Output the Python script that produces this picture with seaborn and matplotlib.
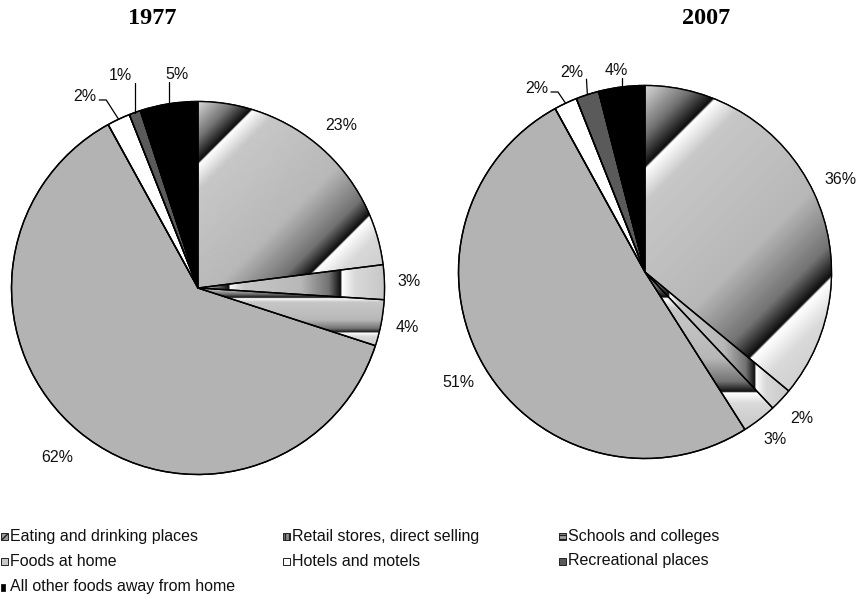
import numpy as np
import matplotlib
matplotlib.use("Agg")
import matplotlib.pyplot as plt
import seaborn as sns
from matplotlib.patches import Wedge, Rectangle

# ---------------- data ----------------
categories = ["Eating and drinking places", "Retail stores, direct selling",
              "Schools and colleges", "Foods at home", "Hotels and motels",
              "Recreational places", "All other foods away from home"]
years = ["1977", "2007"]
share_1977 = [23, 3, 4, 62, 2, 1, 5]
share_2007 = [36, 2, 3, 51, 2, 2, 4]

# ---------------- style / layout ----------------
sns.set_theme(style="white")
plt.rcParams["font.family"] = ["Liberation Sans", "DejaVu Sans"]

fills = ["diag", "vert", "horiz", "#b3b3b3", "#ffffff", "#5a5a5a", "#000000"]
W, H = 862, 601
R = 186.5
centers = [(198, H - 288), (645, H - 272)]
title_x = [152, 706]
# label placement: (angle override or None, distance factor)
label_layout = [
    [(None, 1.16), (None, 1.13), (None, 1.14), (None, 1.18), (120.6, 1.19), (110.0, 1.21), (95.7, 1.15)],
    [(None, 1.16), (None, 1.15), (None, 1.14), (None, 1.16), (120.6, 1.14), (110.0, 1.14), (98.0, 1.09)],
]
# chrome-like gradient stops (position along the shape's bbox, gray level)
stop_t = [0.00, 0.10, 0.165, 0.17, 0.24, 0.55, 0.70, 0.765, 0.77, 0.84, 1.00]
stop_v = [0.85, 0.45, 0.05, 1.00, 0.78, 0.72, 0.45, 0.05, 1.00, 0.85, 0.78]

fig = plt.figure(figsize=(W / 100, H / 100), dpi=100)
ax = fig.add_axes([0, 0, 1, 1])

def wedge_bbox(cx, cy, r, t1, t2):
    th = np.radians(np.linspace(t1, t2, 200))
    xs = np.concatenate([[cx], cx + r * np.cos(th)])
    ys = np.concatenate([[cy], cy + r * np.sin(th)])
    return xs.min(), xs.max(), ys.min(), ys.max()

for k, (year, shares) in enumerate(zip(years, [share_1977, share_2007])):
    cx, cy = centers[k]
    colors = [f if f.startswith("#") else "#ffffff" for f in fills]
    wedges, _ = ax.pie(shares, radius=R, center=(cx, cy), startangle=90,
                       counterclock=False, colors=colors, frame=True,
                       wedgeprops=dict(edgecolor="black", linewidth=1.0))
    # gradient fills clipped to wedges
    for w, f in zip(wedges, fills):
        if f.startswith("#"):
            continue
        x0, x1, y0, y1 = wedge_bbox(cx, cy, R, w.theta1, w.theta2)
        nx, ny = int((x1 - x0) * 2) + 2, int((y1 - y0) * 2) + 2
        gx, gy = np.meshgrid(np.linspace(x0, x1, nx), np.linspace(y0, y1, ny))
        wdt, hgt = max(x1 - x0, 1), max(y1 - y0, 1)
        if f == "diag":
            t = ((gx - x0) + (y1 - gy)) / (wdt + hgt)
        elif f == "vert":
            t = (gx - x0) / wdt
        else:
            t = (y1 - gy) / hgt
        val = np.interp(t, stop_t, stop_v)
        im = ax.imshow(val, extent=(x0, x1, y0, y1), origin="lower", cmap="gray",
                       vmin=0, vmax=1, interpolation="bilinear", zorder=2)
        im.set_clip_path(w)
    for w in wedges:
        ax.add_patch(Wedge((cx, cy), R, w.theta1, w.theta2, fill=False,
                           edgecolor="black", linewidth=1.0, zorder=3))

    # percentage labels
    for i, (w, v) in enumerate(zip(wedges, shares)):
        mid = (w.theta1 + w.theta2) / 2
        ang_over, dist = label_layout[k][i]
        ang = mid if ang_over is None else ang_over
        lx = cx + dist * R * np.cos(np.radians(ang))
        ly = cy + dist * R * np.sin(np.radians(ang))
        txt = f"{v}%"
        ax.text(lx, ly, txt, ha="center", va="center", fontsize=11.5,
                color="#111111", zorder=4)
        if ang_over is not None:
            ex = cx + R * np.cos(np.radians(mid))
            ey = cy + R * np.sin(np.radians(mid))
            hw = 5.6 * len(txt)
            if i == 4:  # elbow leader to the right of the label
                px = lx + hw + 3
                py = ly - 3
                ax.plot([px, px + 7, ex], [py, py, ey], color="black", lw=0.9, zorder=4)
            else:
                px = min(max(ex, lx - hw - 3), lx + hw + 3)
                py = ly - 7
                ax.plot([px, ex], [py, ey], color="black", lw=0.9, zorder=4)

    ax.text(title_x[k], H - 18, year, ha="center", va="center", fontsize=17.5,
            fontweight="bold", family=["Liberation Serif", "DejaVu Serif"], color="black")

# ---------------- legend ----------------
leg_col_x = [1, 283, 559]
leg_row_y = [536, 561, 587]
leg_faces = ["#9a9a9a", "#8a8a8a", "#a0a0a0", "#c8c8c8", "#ffffff", "#5a5a5a", "#000000"]
leg_hatch = ["////", "||||", "----", None, None, None, None]
for i, name in enumerate(categories):
    col, row = i % 3, i // 3
    x = leg_col_x[col]
    y = H - leg_row_y[row]
    mw = 7 if i != 6 else 4
    ax.add_patch(Rectangle((x, y - 3.5), mw, 7, facecolor=leg_faces[i],
                           edgecolor="#222222", linewidth=0.7,
                           hatch=leg_hatch[i], zorder=4))
    ax.text(x + 9, y, name, ha="left", va="center", fontsize=11.5, color="#111111")

ax.set_xlim(0, W)
ax.set_ylim(0, H)
ax.set_aspect("equal")
ax.axis("off")
fig.savefig("out.png", dpi=100)
